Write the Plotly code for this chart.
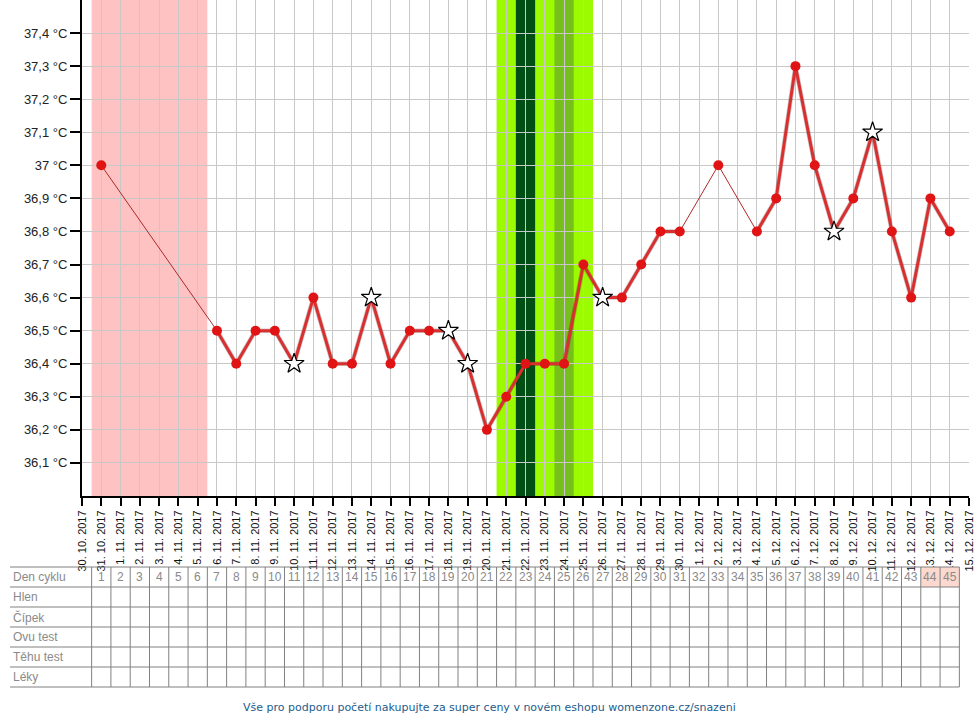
import pandas as pd
import plotly.graph_objects as go

# ------------------------------------------------------------------
# Data
# ------------------------------------------------------------------

cycle_start = "2017-10-31"
axis_start = "2017-10-30"
axis_end = "2017-12-15"

cycle_days = list(range(1, 46))
temperatures = [
    37.0, None, None, None, None, None, 36.5, 36.4, 36.5, 36.5,
    36.4, 36.6, 36.4, 36.4, 36.6, 36.4, 36.5, 36.5, 36.5, 36.4,
    36.2, 36.3, 36.4, 36.4, 36.4, 36.7, 36.6, 36.6, 36.7, 36.8,
    36.8, None, 37.0, None, 36.8, 36.9, 37.3, 37.0, 36.8, 36.9,
    37.1, 36.8, 36.6, 36.9, 36.8,
]
star_days = [11, 15, 19, 20, 27, 39, 41]

menstruation_days = [1, 2, 3, 4, 5, 6]
fertile_days = [22, 23, 24, 25, 26]
ovulation_days = [23]
lh_days = [25]
highlighted_days = [44, 45]

y_tick_values = [36.1, 36.2, 36.3, 36.4, 36.5, 36.6, 36.7,
                 36.8, 36.9, 37.0, 37.1, 37.2, 37.3, 37.4]
y_tick_text = ["36,1 °C", "36,2 °C", "36,3 °C", "36,4 °C", "36,5 °C",
               "36,6 °C", "36,7 °C", "36,8 °C", "36,9 °C", "37 °C",
               "37,1 °C", "37,2 °C", "37,3 °C", "37,4 °C"]

row_labels = ["Den cyklu", "Hlen", "Čípek", "Ovu test", "Těhu test", "Léky"]

footer = ("Vše pro podporu početí nakupujte za super ceny "
          "v novém eshopu womenzone.cz/snazeni")

# ------------------------------------------------------------------
# Layout constants
# ------------------------------------------------------------------

WIDTH, HEIGHT = 980, 720
MARGIN = dict(l=82, r=11, t=0, b=224)
PLOT_W = WIDTH - MARGIN["l"] - MARGIN["r"]
PLOT_H = HEIGHT - MARGIN["t"] - MARGIN["b"]

TABLE_TOP = 567
ROW_H = 20
TABLE_LEFT = 10

GRID = "#c8c8c8"
TABLE_LINE = "#808080"
TEXT_GRAY = "#8a8a8a"
RED = "#d83030"
MARKER_RED = "#e01414"

start = pd.Timestamp(cycle_start)
x_lo, x_hi = pd.Timestamp(axis_start), pd.Timestamp(axis_end)
day_dates = [start + pd.Timedelta(days=d - 1) for d in cycle_days]
half = pd.Timedelta(hours=12)


def paper_y(px):
    return (MARGIN["t"] + PLOT_H - px) / PLOT_H


def paper_x_px(px):
    return (px - MARGIN["l"]) / PLOT_W


def paper_x_date(ts):
    return (ts - x_lo) / (x_hi - x_lo)


def band(days, color):
    return dict(
        type="rect", xref="x", yref="paper", layer="below",
        x0=day_dates[min(days) - 1] - half, x1=day_dates[max(days) - 1] + half,
        y0=0, y1=1, fillcolor=color, line_width=0,
    )


fig = go.Figure()

# soft shadow under the curve
fig.add_trace(go.Scatter(
    x=day_dates, y=temperatures, mode="lines", connectgaps=False,
    line=dict(color="rgba(70,20,20,0.25)", width=4.5), hoverinfo="skip",
))

# thin connectors across missing days
fig.add_trace(go.Scatter(
    x=day_dates, y=temperatures, mode="lines", connectgaps=True,
    line=dict(color="#b02828", width=1), hoverinfo="skip",
))

# thick line for consecutive measurements
fig.add_trace(go.Scatter(
    x=day_dates, y=temperatures, mode="lines", connectgaps=False,
    line=dict(color=RED, width=3),
))

dot_x = [day_dates[d - 1] for d, t in zip(cycle_days, temperatures)
         if t is not None and d not in star_days]
dot_y = [t for d, t in zip(cycle_days, temperatures)
         if t is not None and d not in star_days]
fig.add_trace(go.Scatter(
    x=dot_x, y=dot_y, mode="markers",
    marker=dict(color=MARKER_RED, size=10, line=dict(width=0)),
))

fig.add_trace(go.Scatter(
    x=[day_dates[d - 1] for d in star_days],
    y=[temperatures[d - 1] for d in star_days],
    mode="markers",
    marker=dict(symbol="star", color="white", size=15,
                line=dict(color="black", width=1.2)),
))

shapes = [
    band(menstruation_days, "#ffc2c2"),
    band(fertile_days, "#9cfb00"),
    band(ovulation_days, "#014f14"),
    band(lh_days, "#77bf1b"),
]

# ------------------------------------------------------------------
# Table below the chart
# ------------------------------------------------------------------

annotations = []
n_rows = len(row_labels)
table_left = paper_x_px(TABLE_LEFT)
table_right = paper_x_date(day_dates[-1] + half)

for d in highlighted_days:
    shapes.append(dict(
        type="rect", xref="x", yref="paper",
        x0=day_dates[d - 1] - half, x1=day_dates[d - 1] + half,
        y0=paper_y(TABLE_TOP + ROW_H), y1=paper_y(TABLE_TOP),
        fillcolor="#fcd8cf", line_width=0,
    ))

for i in range(n_rows + 1):
    y = paper_y(TABLE_TOP + i * ROW_H)
    shapes.append(dict(
        type="line", xref="paper", yref="paper",
        x0=table_left, x1=table_right, y0=y, y1=y,
        line=dict(color=TABLE_LINE, width=1),
    ))

for d in cycle_days + [cycle_days[-1] + 1]:
    x = start + pd.Timedelta(days=d - 1) - half
    shapes.append(dict(
        type="line", xref="x", yref="paper", x0=x, x1=x,
        y0=paper_y(TABLE_TOP), y1=paper_y(TABLE_TOP + n_rows * ROW_H),
        line=dict(color=TABLE_LINE, width=1),
    ))

for i, label in enumerate(row_labels):
    annotations.append(dict(
        text=label, xref="paper", yref="paper", x=table_left, xanchor="left",
        y=paper_y(TABLE_TOP + i * ROW_H + ROW_H / 2), yanchor="middle",
        showarrow=False, xshift=1, font=dict(size=12, color=TEXT_GRAY),
    ))

for d in cycle_days:
    annotations.append(dict(
        text=str(d), xref="x", yref="paper", x=day_dates[d - 1],
        y=paper_y(TABLE_TOP + ROW_H / 2), yanchor="middle",
        showarrow=False, font=dict(size=12, color=TEXT_GRAY),
    ))

annotations.append(dict(
    text=footer, xref="paper", yref="paper",
    x=paper_x_px(489), y=paper_y(707), yanchor="middle", showarrow=False,
    font=dict(family="DejaVu Sans, Verdana, sans-serif", size=11,
              color="#1d5c8c"),
))

fig.update_layout(
    width=WIDTH, height=HEIGHT, margin=MARGIN,
    paper_bgcolor="white", plot_bgcolor="white",
    font=dict(family="Liberation Sans, Arial, sans-serif", color="#111111"),
    showlegend=False, hovermode="closest",
    shapes=shapes, annotations=annotations,
)

fig.update_xaxes(
    type="date", range=[axis_start, axis_end], automargin=False,
    tick0=axis_start, dtick=86400000, tickformat="%-d. %m. %Y",
    tickangle=-90, ticks="outside", ticklen=8, tickwidth=2,
    tickcolor="black", showline=True, linecolor="black", linewidth=2,
    showgrid=True, gridcolor=GRID, gridwidth=1, zeroline=False,
    tickfont=dict(size=11, color="#111111"),
)

fig.update_yaxes(
    range=[36.0, 37.5], tickvals=y_tick_values, ticktext=y_tick_text,
    automargin=False,
    ticks="outside", ticklen=10, tickwidth=2, tickcolor="black",
    showline=True, linecolor="black", linewidth=2,
    showgrid=True, gridcolor=GRID, gridwidth=1, zeroline=False,
    tickfont=dict(size=13, color="#222222"),
)

# page body margin would otherwise offset the figure by 8px
fig.write_html(
    "out.html",
    config={"displayModeBar": False},
    post_script="document.body.style.margin='0';",
)
